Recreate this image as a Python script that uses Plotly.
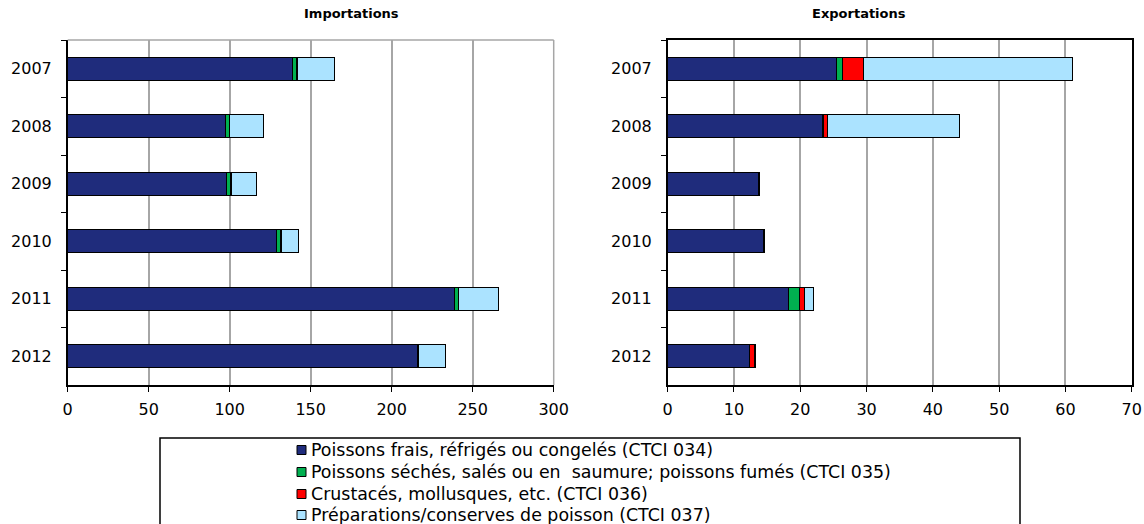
import plotly.graph_objects as go

years = ['2007', '2008', '2009', '2010', '2011', '2012']

series_names = [
    'Poissons frais, réfrigés ou congelés (CTCI 034)',
    'Poissons séchés, salés ou en  saumure; poissons fumés (CTCI 035)',
    'Crustacés, mollusques, etc. (CTCI 036)',
    'Préparations/conserves de poisson (CTCI 037)',
]
colors = ['#1F2C7C', '#00B050', '#FF0000', '#ABE3FF']

# importations
imp_frais = [138.6, 97.7, 98.1, 128.6, 238.5, 216.0]
imp_seches = [2.8, 2.1, 2.5, 2.9, 2.5, 0.3]
imp_crust = [0.3, 0.2, 0.2, 0.2, 0.3, 0.4]
imp_prep = [23.3, 20.7, 16.0, 10.5, 24.7, 16.5]

# exportations
exp_frais = [25.5, 23.4, 13.7, 14.4, 18.2, 12.3]
exp_seches = [0.9, 0.1, 0.1, 0.1, 1.7, 0.1]
exp_crust = [3.2, 0.6, 0.1, 0.1, 0.8, 0.7]
exp_prep = [31.4, 19.9, 0.0, 0.0, 1.3, 0.1]

imp = [imp_frais, imp_seches, imp_crust, imp_prep]
exp = [exp_frais, exp_seches, exp_crust, exp_prep]

fig = go.Figure()
for i in range(4):
    fig.add_trace(go.Bar(y=years, x=imp[i], orientation='h', name=series_names[i],
                         marker=dict(color=colors[i], line=dict(color='black', width=1)),
                         xaxis='x', yaxis='y'))
    fig.add_trace(go.Bar(y=years, x=exp[i], orientation='h', name=series_names[i],
                         marker=dict(color=colors[i], line=dict(color='black', width=1)),
                         xaxis='x2', yaxis='y2'))

W, H = 1144, 524


def px(v):
    return v / W


def py(v):
    return 1 - v / H


ydom = [py(385), py(40)]
font = dict(family='DejaVu Sans', size=16, color='black')

common_x = dict(showline=True, linecolor='black', linewidth=1.5, ticks='outside', ticklen=5,
                tickcolor='black', showgrid=True, gridcolor='#A6A6A6', gridwidth=1.5,
                zeroline=False, tickfont=font, automargin=False, ticklabelstandoff=4)
common_y = dict(showline=True, linecolor='black', linewidth=1.5, ticks='outside', ticklen=5,
                tickcolor='black', tickson='boundaries', autorange='reversed',
                showgrid=False, tickfont=font, type='category', automargin=False,
                ticklabelstandoff=11)

fig.update_layout(
    width=W, height=H,
    margin=dict(l=0, r=0, t=0, b=0),
    paper_bgcolor='white', plot_bgcolor='white',
    barmode='stack', bargap=0.6,
    font=font,
    showlegend=False,
    xaxis=dict(domain=[px(67.7), px(553.7)], range=[0, 300], dtick=50, anchor='y', **common_x),
    yaxis=dict(domain=ydom, anchor='x', **common_y),
    xaxis2=dict(domain=[px(667.7), px(1131.7)], range=[0, 70], dtick=10, anchor='y2',
                mirror=True, **common_x),
    yaxis2=dict(domain=ydom, anchor='x2', mirror=True, **common_y),
)

# grey top/right frame of the left panel
fig.add_shape(type='line', xref='paper', yref='paper', x0=px(67.7), x1=px(553.7),
              y0=ydom[1], y1=ydom[1], line=dict(color='#A6A6A6', width=1.5))
fig.add_shape(type='line', xref='paper', yref='paper', x0=px(553.7), x1=px(553.7),
              y0=ydom[0], y1=ydom[1], line=dict(color='#A6A6A6', width=1.5))

# legend box, drawn by hand
fig.add_shape(type='rect', xref='paper', yref='paper', x0=px(160), x1=px(1020),
              y0=-0.1, y1=py(438), line=dict(color='black', width=1.5))
row_y = [450, 472, 494, 515]
for i in range(4):
    yc = py(row_y[i])
    fig.add_shape(type='rect', xref='paper', yref='paper',
                  x0=px(297), x1=px(306), y0=yc - 4.5 / H, y1=yc + 4.5 / H,
                  fillcolor=colors[i], line=dict(color='black', width=1))
    fig.add_annotation(text=series_names[i], x=px(309), y=yc, xref='paper', yref='paper',
                       xanchor='left', yanchor='middle', showarrow=False,
                       font=dict(family='DejaVu Sans', size=17.4, color='black'))

fig.add_annotation(text='<b>Importations</b>', x=px(302), y=py(13), xref='paper', yref='paper',
                   showarrow=False, yanchor='middle',
                   font=dict(family='DejaVu Sans', size=13, color='black'))
fig.add_annotation(text='<b>Exportations</b>', x=px(908), y=py(13), xref='paper', yref='paper',
                   showarrow=False, yanchor='middle',
                   font=dict(family='DejaVu Sans', size=13, color='black'))

# drop the default 8px body margin so the figure fills the window exactly
fig.write_html('out.html', config={'displayModeBar': False},
               post_script="document.body.style.margin='0';"
                           "document.body.style.overflow='hidden';")
